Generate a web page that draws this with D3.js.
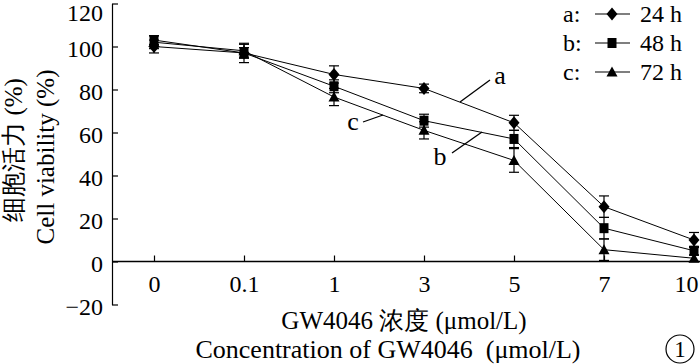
<!DOCTYPE html>
<html><head><meta charset="utf-8">
<script src="https://cdn.jsdelivr.net/npm/d3@7"></script>
<style>body{margin:0;background:#fff} svg{display:block}</style>
</head><body><svg width="700" height="364"></svg>
<script>
const concentrations = ["0","0.1","1","3","5","7","10"];
const yTicks = [-20,0,20,40,60,80,100,120];
const seriesKeys = ["a","b","c"];
const seriesNames = ["24 h","48 h","72 h"];
const v24 = [100, 97, 87, 80.5, 64.5, 25.5, 10];
const v48 = [103, 97, 81.5, 65.5, 57, 15.5, 5];
const v72 = [102, 98, 76.5, 61, 47, 5.5, 1.5];
const e24 = [3, 4.5, 4, 2, 3.5, 5, 3.5];
const e48 = [2, 2.5, 3, 3, 4, 5, 2];
const e72 = [3, 3, 4, 4, 5.5, 5, 1.5];
const xTitle1 = "GW4046 浓度 (μmol/L)";
const xTitle2 = "Concentration of GW4046\u00a0\u00a0(μmol/L)";
const yTitle1 = "细胞活力 (%)";
const yTitle2 = "Cell viability (%)";

const FONT = '"Liberation Serif"';
const svg = d3.select("svg");
const x = d3.scalePoint().domain(concentrations).range([154, 694]);
const y = d3.scaleLinear().domain([-20, 120]).range([304.5, 3.5]);
const axisX = 112;
const txt = sel => sel.style("font-family", FONT).attr("fill", "#000");

// Y axis
const gy = svg.append("g").attr("transform", `translate(${axisX},0)`)
  .call(d3.axisLeft(y).tickValues(yTicks).tickSize(-6).tickSizeOuter(0).tickPadding(9)
    .tickFormat(d => d < 0 ? "\u2212" + Math.abs(d) : d));
gy.attr("font-family", null);
gy.selectAll("text").call(txt).attr("font-size", 24).attr("dy", "0.42em")
  .filter(d => d === 120).attr("dy", "0.7em");
gy.selectAll("line,path").attr("stroke", "#000").attr("stroke-width", 1.2);

// X axis at y=0
const gx = svg.append("g").attr("transform", `translate(0,${y(0)})`)
  .call(d3.axisBottom(x).tickSize(-6).tickSizeOuter(0).tickPadding(13));
gx.attr("font-family", null);
gx.select(".domain").remove();
gx.selectAll("text").call(txt).attr("font-size", 24)
  .filter(d => d === "10").attr("text-anchor", "end").attr("dx", "4");
gx.selectAll("line").attr("stroke", "#000").attr("stroke-width", 1.2);
svg.append("line").attr("x1", axisX).attr("x2", 700).attr("y1", y(0)).attr("y2", y(0))
  .attr("stroke", "#000").attr("stroke-width", 1.5);

// markers
const markers = {
  a: "M0,-6.5L5.5,0L0,6.5L-5.5,0Z",
  b: "M-4.5,-5H4.5V5H-4.5Z",
  c: "M0,-5.5L5.5,4.5H-5.5Z"
};
const data = [
  {key: "c", vals: v72, errs: e72},
  {key: "b", vals: v48, errs: e48},
  {key: "a", vals: v24, errs: e24}
];
const line = d3.line().x((d, i) => x(concentrations[i])).y(d => y(d));
data.forEach(s => {
  const g = svg.append("g");
  g.append("path").attr("d", line(s.vals)).attr("fill", "none").attr("stroke", "#000").attr("stroke-width", 1);
  s.vals.forEach((v, i) => {
    const cx = x(concentrations[i]);
    const lo = y(v - s.errs[i]), hi = y(v + s.errs[i]);
    g.append("line").attr("x1", cx).attr("x2", cx).attr("y1", lo).attr("y2", hi).attr("stroke", "#000").attr("stroke-width", 1.2);
    [lo, hi].forEach(yy => g.append("line").attr("x1", cx - 5).attr("x2", cx + 5).attr("y1", yy).attr("y2", yy).attr("stroke", "#000").attr("stroke-width", 1.2));
    g.append("path").attr("d", markers[s.key]).attr("transform", `translate(${cx},${y(v)})`).attr("fill", "#000");
  });
});

// Legend
const legY = [14, 43, 72];
seriesKeys.forEach((k, i) => {
  const g = svg.append("g").attr("transform", `translate(0,${legY[i]})`);
  g.append("text").attr("x", 563).attr("y", 8).text(k + ":").call(txt).attr("font-size", 24);
  g.append("line").attr("x1", 595).attr("x2", 630).attr("y1", 0).attr("y2", 0).attr("stroke", "#000").attr("stroke-width", 1.2);
  g.append("path").attr("d", markers[k]).attr("transform", "translate(612,0)").attr("fill", "#000");
  g.append("text").attr("x", 640).attr("y", 8).text(seriesNames[i]).call(txt).attr("font-size", 24);
});

// Annotations
const ann = [
  {t: "a", tx: 500, ty: 77, x1: 460, y1: 102, x2: 490, y2: 80},
  {t: "b", tx: 440, ty: 158, x1: 452, y1: 153, x2: 482, y2: 132},
  {t: "c", tx: 353, ty: 123, x1: 363, y1: 122, x2: 383, y2: 115}
];
ann.forEach(a => {
  svg.append("line").attr("x1", a.x1).attr("y1", a.y1).attr("x2", a.x2).attr("y2", a.y2).attr("stroke", "#000").attr("stroke-width", 1.3);
  svg.append("text").attr("x", a.tx).attr("y", a.ty + 7).attr("text-anchor", "middle").text(a.t).call(txt).attr("font-size", 26);
});

// Titles
svg.append("text").attr("x", 404).attr("y", 329).attr("text-anchor", "middle").text(xTitle1).call(txt).attr("font-size", 25);
svg.append("text").attr("x", 388).attr("y", 358).attr("text-anchor", "middle").text(xTitle2).call(txt).attr("font-size", 26);
svg.append("text").attr("transform", "translate(22,150) rotate(-90)").attr("text-anchor", "middle").text(yTitle1).call(txt).attr("font-size", 25);
svg.append("text").attr("transform", "translate(54,157) rotate(-90)").attr("text-anchor", "middle").text(yTitle2).call(txt).attr("font-size", 25);

// circled figure number
svg.append("circle").attr("cx", 680).attr("cy", 349).attr("r", 14).attr("fill", "none").attr("stroke", "#000").attr("stroke-width", 1.2);
svg.append("text").attr("x", 680).attr("y", 357).attr("text-anchor", "middle").text("1").call(txt).attr("font-size", 23);
</script></body></html>
